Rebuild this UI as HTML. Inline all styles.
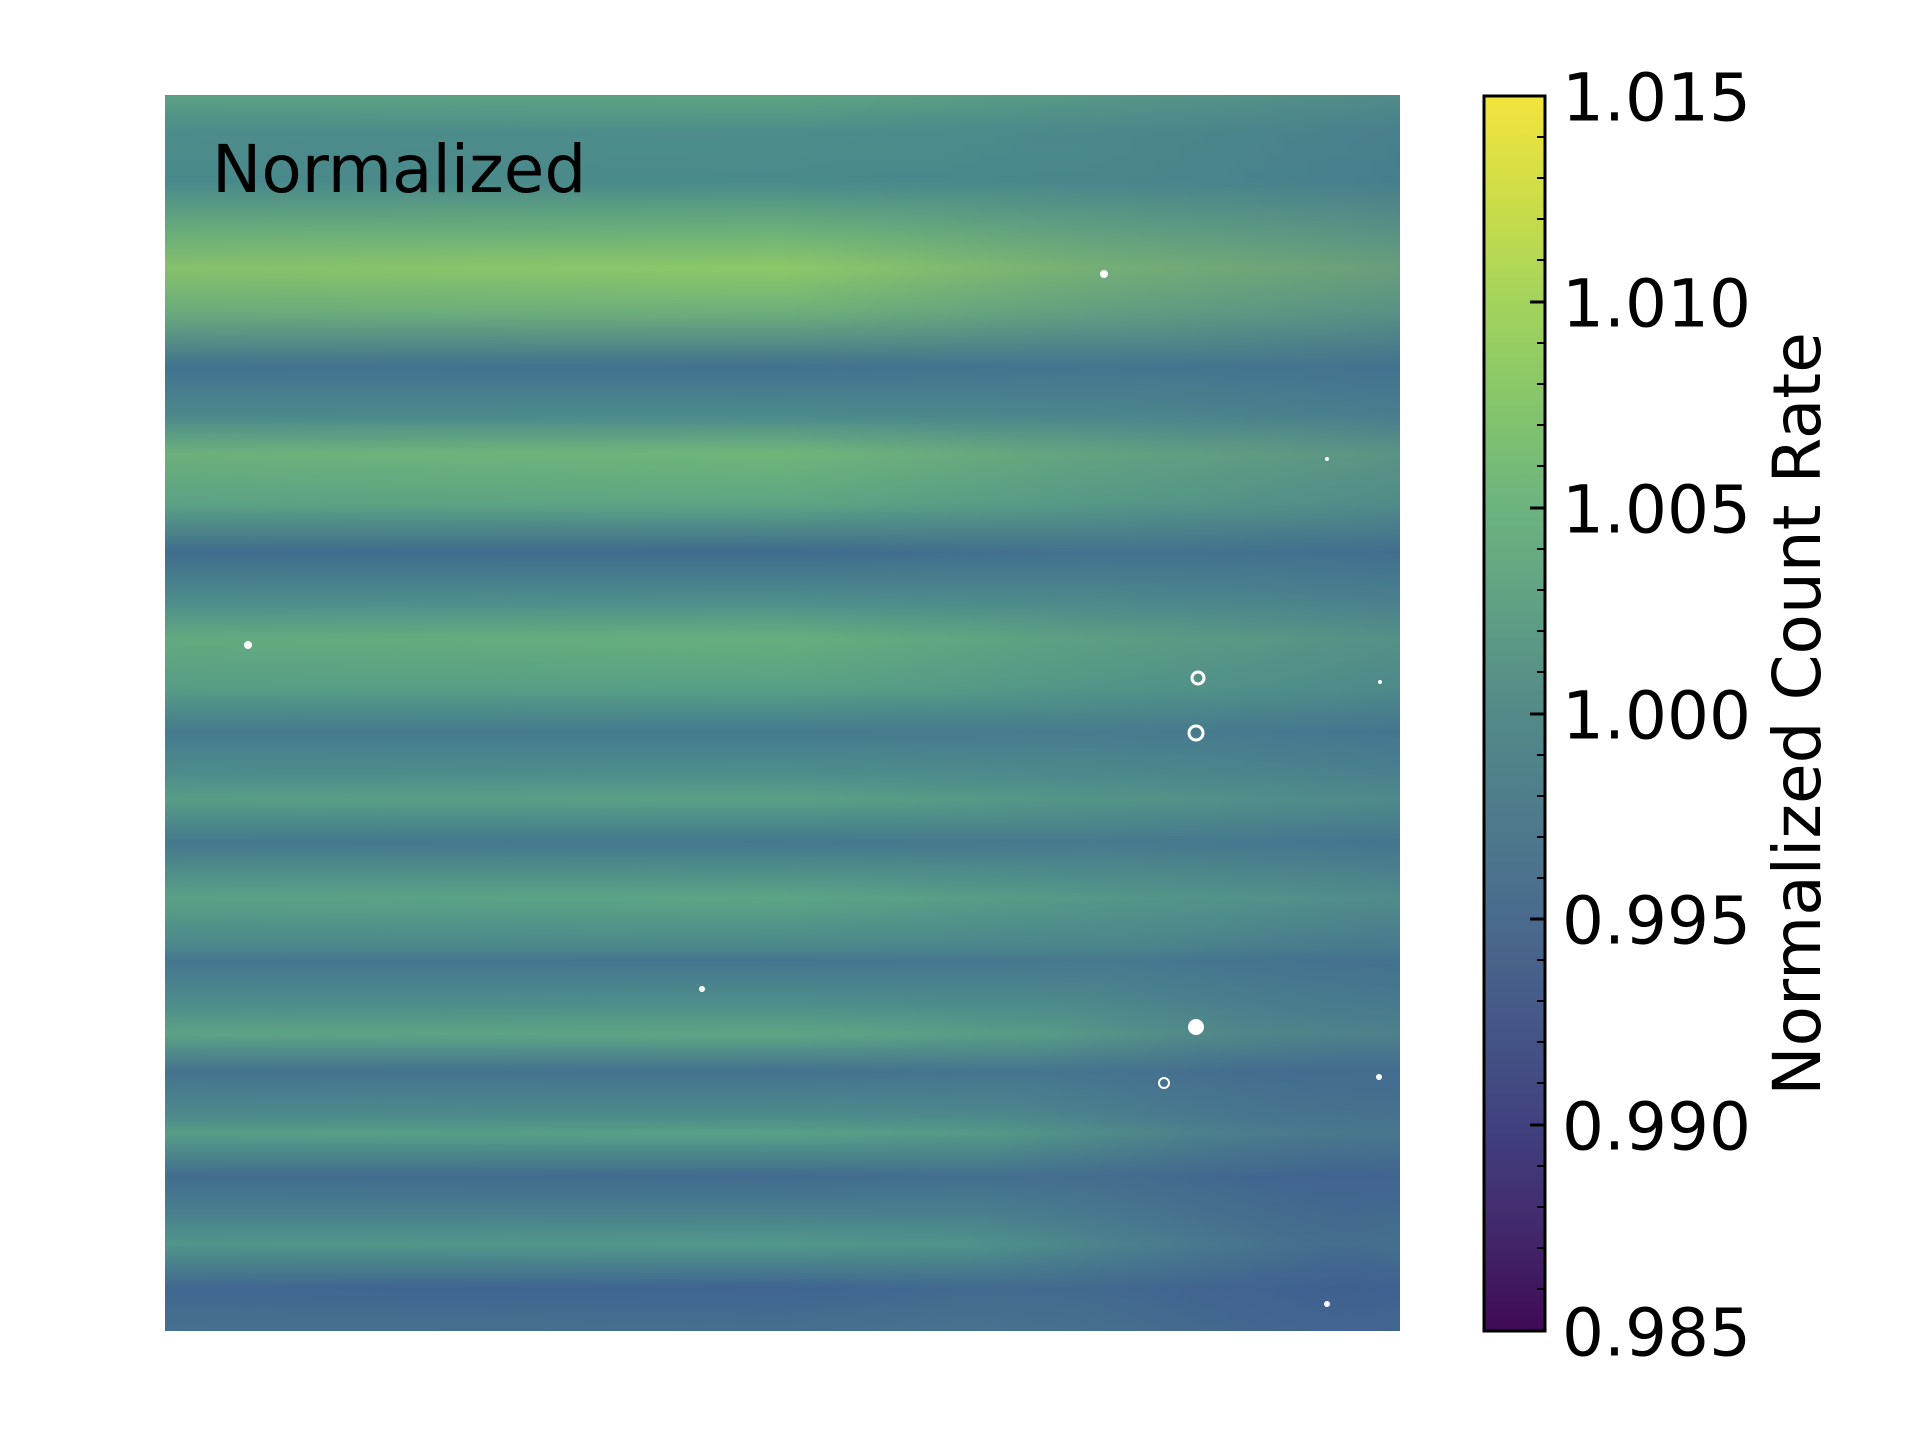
<!DOCTYPE html>
<html><head><meta charset="utf-8"><style>
html,body{margin:0;padding:0;background:#fff;}
body{width:1920px;height:1440px;overflow:hidden;font-family:"DejaVu Sans","Liberation Sans",sans-serif;}
</style></head><body>
<svg width="1920" height="1440" xmlns="http://www.w3.org/2000/svg" style="display:block">
<defs>
<linearGradient id="bands" x1="0" y1="0" x2="0" y2="1">
<stop offset="0" stop-color="#5ea482"/>
<stop offset="0.03" stop-color="#4d8d8a"/>
<stop offset="0.07" stop-color="#4a8a8b"/>
<stop offset="0.11" stop-color="#6cb079"/>
<stop offset="0.14" stop-color="#8cc868"/>
<stop offset="0.175" stop-color="#6eb07a"/>
<stop offset="0.22" stop-color="#41718f"/>
<stop offset="0.26" stop-color="#4d8a8b"/>
<stop offset="0.29" stop-color="#70b57a"/>
<stop offset="0.33" stop-color="#5ea583"/>
<stop offset="0.37" stop-color="#3f6b8e"/>
<stop offset="0.41" stop-color="#4f8e8b"/>
<stop offset="0.44" stop-color="#66ae7e"/>
<stop offset="0.48" stop-color="#58a085"/>
<stop offset="0.515" stop-color="#457a8e"/>
<stop offset="0.55" stop-color="#4f8e8b"/>
<stop offset="0.57" stop-color="#5aa085"/>
<stop offset="0.605" stop-color="#44788e"/>
<stop offset="0.65" stop-color="#5ca485"/>
<stop offset="0.69" stop-color="#4c878c"/>
<stop offset="0.7" stop-color="#44758f"/>
<stop offset="0.735" stop-color="#4f8e8b"/>
<stop offset="0.76" stop-color="#5ea584"/>
<stop offset="0.79" stop-color="#44728f"/>
<stop offset="0.825" stop-color="#4e8a8c"/>
<stop offset="0.84" stop-color="#58a086"/>
<stop offset="0.875" stop-color="#416b8f"/>
<stop offset="0.905" stop-color="#4a808d"/>
<stop offset="0.93" stop-color="#52988a"/>
<stop offset="0.965" stop-color="#3f6590"/>
<stop offset="1" stop-color="#466f8f"/>
</linearGradient>
<linearGradient id="rightfade" x1="0" y1="0" x2="1" y2="0">
<stop offset="0" stop-color="#4a7f8d" stop-opacity="0.1"/>
<stop offset="0.5" stop-color="#4a7f8d" stop-opacity="0"/>
<stop offset="0.75" stop-color="#4a7f8d" stop-opacity="0.35"/>
<stop offset="1" stop-color="#44728f" stop-opacity="0.5"/>
</linearGradient>
<radialGradient id="br" cx="0.95" cy="0.95" r="0.3">
<stop offset="0" stop-color="#3f5890" stop-opacity="0.6"/>
<stop offset="1" stop-color="#3f5890" stop-opacity="0"/>
</radialGradient>
<linearGradient id="cbar" x1="0" y1="1" x2="0" y2="0">
<stop offset="0" stop-color="#3f0a55"/>
<stop offset="0.083" stop-color="#42296c"/>
<stop offset="0.167" stop-color="#41417f"/>
<stop offset="0.25" stop-color="#455787"/>
<stop offset="0.333" stop-color="#4a6a8d"/>
<stop offset="0.417" stop-color="#4e7b8c"/>
<stop offset="0.5" stop-color="#538a88"/>
<stop offset="0.583" stop-color="#5f9f84"/>
<stop offset="0.667" stop-color="#6db37f"/>
<stop offset="0.75" stop-color="#85c56b"/>
<stop offset="0.833" stop-color="#a3d35c"/>
<stop offset="0.917" stop-color="#cddd48"/>
<stop offset="1" stop-color="#f3e43e"/>
</linearGradient>
</defs>
<rect x="165" y="95" width="1235" height="1236" fill="url(#bands)"/>
<rect x="165" y="95" width="1235" height="1236" fill="url(#rightfade)"/>
<rect x="165" y="95" width="1235" height="1236" fill="url(#br)"/>
<g fill="#fff">
<circle cx="1104" cy="274" r="4"/><circle cx="1198" cy="678" r="6" fill="none" stroke="#fff" stroke-width="3"/>
<circle cx="1196" cy="733" r="7" fill="none" stroke="#fff" stroke-width="3"/>
<circle cx="1196" cy="1027" r="8"/><circle cx="1164" cy="1083" r="5" fill="none" stroke="#fff" stroke-width="2"/>
<circle cx="248" cy="645" r="4"/><circle cx="702" cy="989" r="3"/><circle cx="1327" cy="459" r="2"/>
<circle cx="1379" cy="1077" r="3"/><circle cx="1327" cy="1304" r="3"/><circle cx="1380" cy="682" r="2"/>
</g>
<text x="212" y="192" font-size="66" fill="#000">Normalized</text>
<rect x="1484" y="96" width="61" height="1235" fill="url(#cbar)" stroke="#000" stroke-width="3"/>
<g stroke="#000" stroke-width="3">
<line x1="1530" y1="96" x2="1545" y2="96"/><line x1="1530" y1="302" x2="1545" y2="302"/>
<line x1="1530" y1="508" x2="1545" y2="508"/><line x1="1530" y1="714" x2="1545" y2="714"/>
<line x1="1530" y1="919" x2="1545" y2="919"/><line x1="1530" y1="1125" x2="1545" y2="1125"/>
<line x1="1530" y1="1331" x2="1545" y2="1331"/>
</g>
<g stroke="#000" stroke-width="2">
<path d="M1537 137H1545M1537 178H1545M1537 219H1545M1537 260H1545M1537 343H1545M1537 384H1545M1537 425H1545M1537 466H1545M1537 549H1545M1537 590H1545M1537 631H1545M1537 672H1545M1537 755H1545M1537 796H1545M1537 837H1545M1537 878H1545M1537 960H1545M1537 1001H1545M1537 1042H1545M1537 1083H1545M1537 1166H1545M1537 1207H1545M1537 1248H1545M1537 1289H1545"/>
</g>
<g font-size="66" fill="#000" dominant-baseline="central">
<text x="1562" y="98">1.015</text><text x="1562" y="304">1.010</text>
<text x="1562" y="510">1.005</text><text x="1562" y="716">1.000</text>
<text x="1562" y="921">0.995</text><text x="1562" y="1127">0.990</text>
<text x="1562" y="1333">0.985</text>
</g>
<text transform="translate(1820,714) rotate(-90)" text-anchor="middle" font-size="66" fill="#000">Normalized Count Rate</text>
</svg>
</body></html>
